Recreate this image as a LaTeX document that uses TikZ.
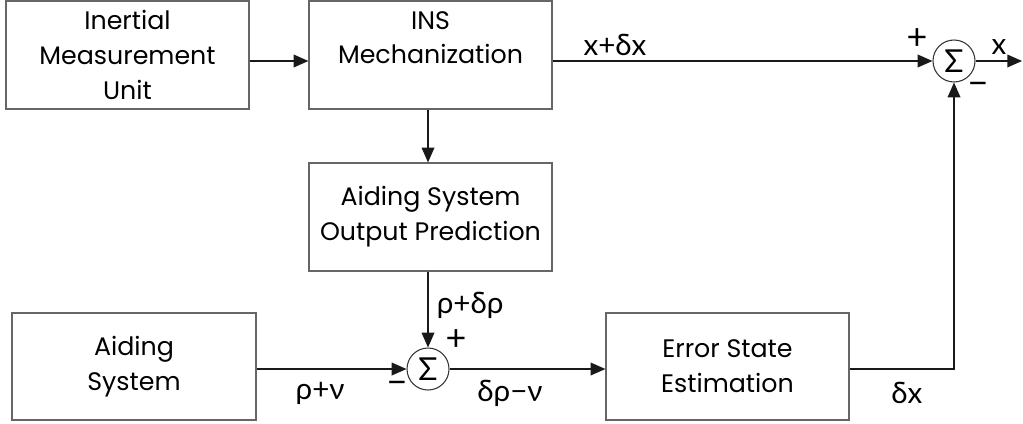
\documentclass[tikz,border=0pt]{standalone}
\usepackage{fontspec}
\setmainfont{Poppins}
\newfontfamily\grk{Lato}
\usepackage{tikz}
\usetikzlibrary{arrows.meta,positioning}

\begin{document}
\begin{tikzpicture}[
  font=\fontsize{24}{33}\selectfont, >={Triangle[length=14pt,width=12pt]},
  blk/.style={draw=black!60, align=center, inner sep=0pt, minimum width=8.1cm, minimum height=3.6cm, line width=1.1pt},
  sm/.style={draw=black!80, circle, inner sep=0pt, minimum size=1.4cm, line width=1pt, font=\grk\fontsize{30}{32}\selectfont},
  fl/.style={->, line width=1.3pt, draw=black!90},
  lb/.style={font=\grk\fontsize{28}{30}\selectfont},
  sg/.style={font=\grk\fontsize{34}{36}\selectfont, inner sep=0pt},
]
\useasboundingbox (0,0) rectangle (34.1,-14.1);
\node[blk] (imu) at (4.25,-1.833) {Inertial\\Measurement\\Unit};
\node[blk] (ins) at (14.35,-1.833) {INS\\Mechanization\\\mbox{}};
\node[blk] (pred) at (14.35,-7.233) {Aiding System\\Output Prediction};
\node[blk, minimum width=8.13cm, minimum height=3.57cm] (aid) at (4.467,-12.217) {Aiding\\System};
\node[blk, minimum width=8.1cm, minimum height=3.57cm] (est) at (24.25,-12.217) {Error State\\Estimation};
\node[sm] (sum1) at (31.8,-2.033) {Σ};
\node[sm] (sum2) at (14.267,-12.3) {Σ};
\coordinate (out) at (34.07,-2.033);
% labels
\node[lb] (lxdx) at (20.5,-1.5) {x+δx};
\node[sg] (lp1) at (30.57,-1.3) {+};
\node[sg] (lm1) at (32.6,-2.967) {−};
\node[lb] (lx) at (33.3,-1.567) {x};
\node[lb] (lrdr) at (15.67,-10.17) {ρ+δρ};
\node[sg] (lp2) at (15.2,-11.35) {+};
\node[sg] (lm2) at (13.23,-12.93) {−};
\node[lb] (lrn) at (10.67,-13.1) {ρ+ν};
\node[lb] (ldrn) at (17.0,-13.1) {δρ−ν};
\node[lb] (ldx) at (30.23,-13.1) {δx};
% connectors
\draw[fl] (imu.east |- sum1) -- (ins.west |- sum1);
\draw[fl] (ins.east |- sum1) -- (sum1);
\draw[fl] (sum1) -- (out);
\draw[fl] (sum2 |- ins.south) -- (sum2 |- pred.north);
\draw[fl] (sum2 |- pred.south) -- (sum2);
\draw[fl] (aid.east |- sum2) -- (sum2);
\draw[fl] (sum2) -- (est.west |- sum2);
\draw[fl] (est.east |- sum2) -| (sum1);
\end{tikzpicture}
\end{document}
